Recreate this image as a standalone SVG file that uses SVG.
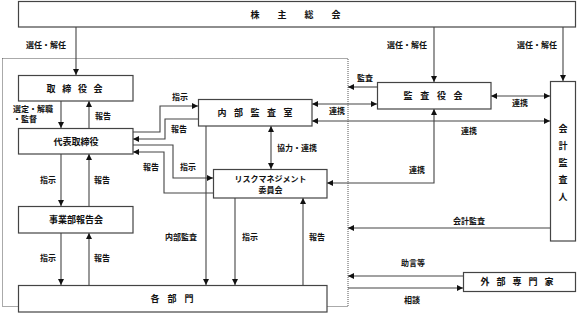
<svg xmlns="http://www.w3.org/2000/svg" width="577" height="316" viewBox="0 0 577 316">
<style>
  .bx { fill: #fff; stroke: #444; stroke-width: 1.2; }
  .ln { fill: none; stroke: #444; stroke-width: 1.1; }
  .t { font-family: "Noto Sans CJK JP", "Noto Sans CJK SC", sans-serif; font-size: 8px; font-weight: bold; fill: #111; }
  .bt { font-family: "Noto Sans CJK JP", "Noto Sans CJK SC", sans-serif; font-size: 9px; font-weight: bold; fill: #111; }
  .m { text-anchor: middle; }
</style>
<defs>
  <marker id="ah" markerUnits="userSpaceOnUse" markerWidth="7" markerHeight="7" refX="6" refY="3.5" orient="auto-start-reverse">
    <path d="M0,0.5 L6,3.5 L0,6.5 Z" fill="#111"/>
  </marker>
</defs>
<rect width="577" height="316" fill="#fff"/>
<rect x="2.5" y="58.5" width="345.5" height="248" fill="none" stroke="#555" stroke-width="1" stroke-dasharray="1,1"/>

<g id="connectors">
  <path class="ln" d="M76,27 V75" marker-end="url(#ah)"/>
  <path class="ln" d="M434,27 V82" marker-end="url(#ah)"/>
  <path class="ln" d="M563,27 V81" marker-end="url(#ah)"/>
  <path class="ln" d="M61,101 V128" marker-end="url(#ah)"/>
  <path class="ln" d="M89,128 V101" marker-end="url(#ah)"/>
  <path class="ln" d="M61,154 V206" marker-end="url(#ah)"/>
  <path class="ln" d="M89,206 V154" marker-end="url(#ah)"/>
  <path class="ln" d="M61,233 V285" marker-end="url(#ah)"/>
  <path class="ln" d="M89,285 V233" marker-end="url(#ah)"/>
  <path class="ln" d="M133,132 H160 V106 H198" marker-end="url(#ah)"/>
  <path class="ln" d="M198,119 H165 V139 H133" marker-end="url(#ah)"/>
  <path class="ln" d="M133,145 H173 V178 H213" marker-end="url(#ah)"/>
  <path class="ln" d="M213,193 H164 V152 H133" marker-end="url(#ah)"/>
  <path class="ln" d="M271,126 V169" marker-start="url(#ah)" marker-end="url(#ah)"/>
  <path class="ln" d="M206,126 V285" marker-end="url(#ah)"/>
  <path class="ln" d="M235,198 V285" marker-end="url(#ah)"/>
  <path class="ln" d="M303,285 V198" marker-end="url(#ah)"/>
  <path class="ln" d="M377,87 H348" marker-end="url(#ah)"/>
  <path class="ln" d="M312,104 H377" marker-start="url(#ah)" marker-end="url(#ah)"/>
  <path class="ln" d="M312,121 H550" marker-start="url(#ah)" marker-end="url(#ah)"/>
  <path class="ln" d="M491,96 H550" marker-start="url(#ah)" marker-end="url(#ah)"/>
  <path class="ln" d="M434,109 V183 H327" marker-start="url(#ah)" marker-end="url(#ah)"/>
  <path class="ln" d="M550,228 H348" marker-end="url(#ah)"/>
  <path class="ln" d="M463,276 H348" marker-end="url(#ah)"/>
  <path class="ln" d="M348,288 H463" marker-end="url(#ah)"/>

  <text class="t m" x="46" y="48">選任・解任</text>
  <text class="t m" x="407" y="48">選任・解任</text>
  <text class="t m" x="537" y="48">選任・解任</text>
  <text class="t" x="13" y="112">選定・解職</text>
  <text class="t" x="13" y="122">・監督</text>
  <text class="t" x="95" y="119">報告</text>
  <text class="t m" x="180" y="100">指示</text>
  <text class="t m" x="179" y="132">報告</text>
  <text class="t m" x="151" y="170">報告</text>
  <text class="t m" x="188" y="170">指示</text>
  <text class="t" x="277" y="151">協力・連携</text>
  <text class="t m" x="48" y="183">指示</text>
  <text class="t m" x="102" y="183">報告</text>
  <text class="t m" x="48" y="261">指示</text>
  <text class="t m" x="102" y="261">報告</text>
  <text class="t m" x="181" y="240">内部監査</text>
  <text class="t m" x="250" y="240">指示</text>
  <text class="t m" x="317" y="240">報告</text>
  <text class="t m" x="365" y="81">監査</text>
  <text class="t m" x="337" y="114">連携</text>
  <text class="t m" x="520" y="106">連携</text>
  <text class="t m" x="469" y="134">連携</text>
  <text class="t m" x="417" y="173">連携</text>
  <text class="t m" x="469" y="224">会計監査</text>
  <text class="t m" x="413" y="266">助言等</text>
  <text class="t m" x="412" y="303">相談</text>
</g>

<g id="kabunushi">
  <rect class="bx" x="18.5" y="1.5" width="557" height="25.5"/>
  <text class="bt" x="250.5" y="17.5" letter-spacing="18">株主総会</text>
</g>
<g id="torishimariyakukai">
  <rect class="bx" x="18.5" y="75.5" width="114.5" height="25.5"/>
  <text class="bt" x="46.5" y="91.5" letter-spacing="6.7">取締役会</text>
</g>
<g id="daihyo">
  <rect class="bx" x="18.5" y="128.5" width="114.5" height="25.5"/>
  <text class="bt m" x="76" y="144.5">代表取締役</text>
</g>
<g id="jigyobu">
  <rect class="bx" x="18.5" y="206.5" width="114.5" height="26.5"/>
  <text class="bt m" x="76" y="223">事業部報告会</text>
</g>
<g id="kakubumon">
  <rect class="bx" x="18.5" y="285.5" width="308.5" height="26.5"/>
  <text class="bt" x="150.5" y="302" letter-spacing="8">各部門</text>
</g>
<g id="naibukansa">
  <rect class="bx" x="198.5" y="99.5" width="113.5" height="26.5"/>
  <text class="bt" x="217.5" y="116" letter-spacing="7.5">内部監査室</text>
</g>
<g id="risk">
  <rect class="bx" x="213.5" y="169.5" width="113.5" height="28.5"/>
  <text class="t m" x="270.5" y="182">リスクマネジメント</text>
  <text class="t m" x="270.5" y="193">委員会</text>
</g>
<g id="kansayakukai">
  <rect class="bx" x="377.5" y="82.5" width="113.5" height="26.5"/>
  <text class="bt" x="403.5" y="99" letter-spacing="7.7">監査役会</text>
</g>
<g id="kaikeikansanin">
  <rect class="bx" x="550.5" y="81.5" width="25" height="159.5"/>
  <text class="bt m" x="563" y="131.5">会</text>
  <text class="bt m" x="563" y="148.5">計</text>
  <text class="bt m" x="563" y="165.5">監</text>
  <text class="bt m" x="563" y="182.5">査</text>
  <text class="bt m" x="563" y="199.5">人</text>
</g>
<g id="gaibusenmonka">
  <rect class="bx" x="463.5" y="272.5" width="112" height="19"/>
  <text class="bt" x="480.5" y="285" letter-spacing="7">外部専門家</text>
</g>
</svg>
